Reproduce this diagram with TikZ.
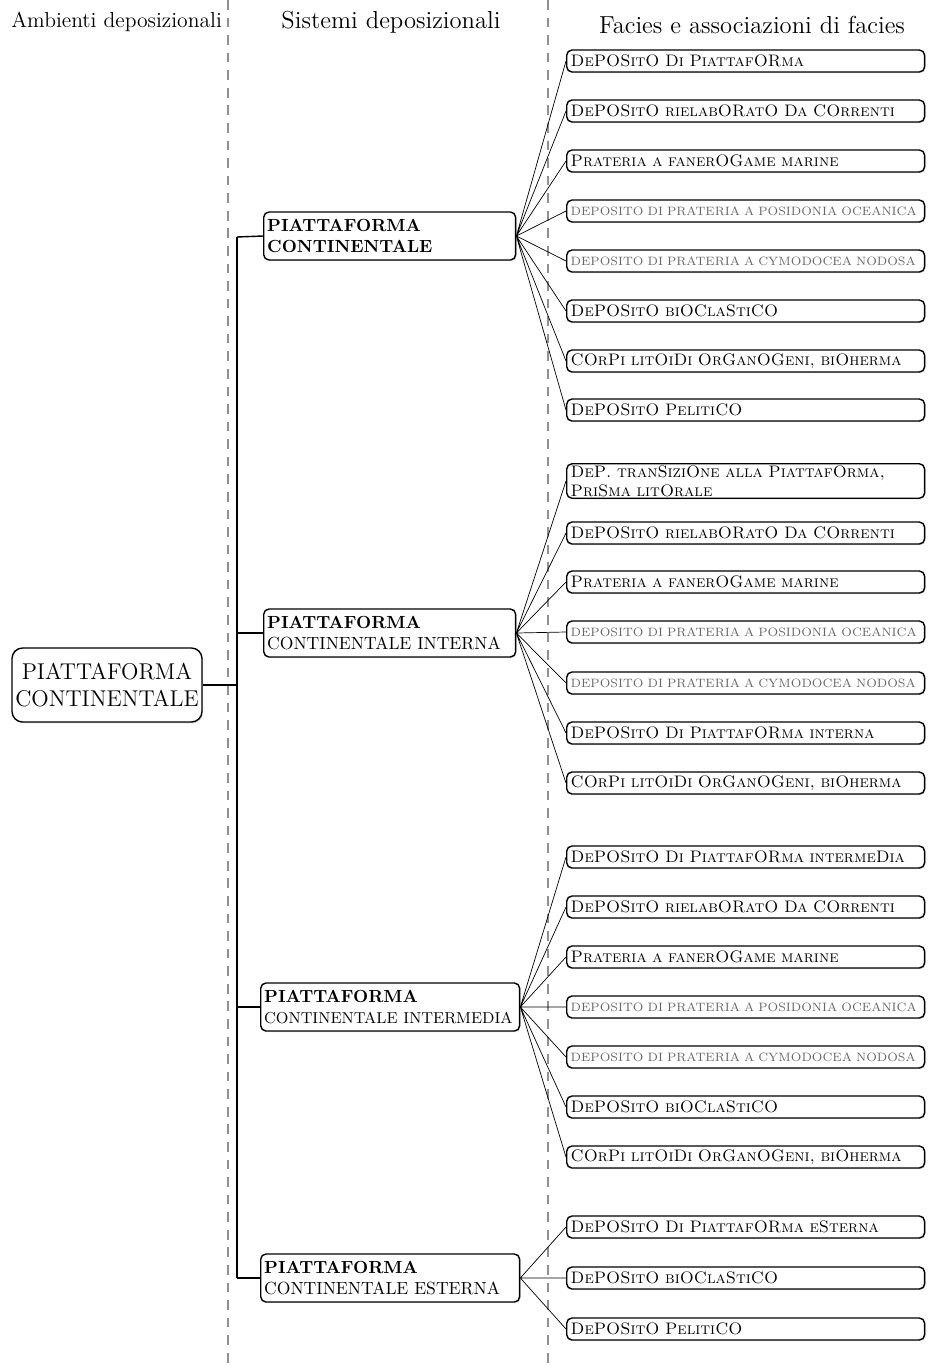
\documentclass[tikz,border=0pt]{standalone}
\usetikzlibrary{shadows,positioning}
\usepackage[dvipsnames]{xcolor}

\tikzset{
    ambiente/.style={draw, thick, rounded corners=6pt, align=center, font=\fontsize{13}{15}\selectfont,
        minimum width=3.8cm, minimum height=1.48cm, inner sep=0.06cm,
        drop shadow={shadow xshift=0.6pt, shadow yshift=-0.8pt, fill=Gray!60}, fill=white},
    sistema/.style={draw, thick, rounded corners=3pt, align=left, anchor=west,
        text width=4.9cm, inner xsep=0.07cm, minimum height=0.96cm,
        drop shadow={shadow xshift=0.5pt, shadow yshift=-0.7pt, fill=Gray!60}, fill=white},
    facies/.style={draw, thick, rounded corners=3pt, align=left, anchor=west,
        text width=7.0cm, inner xsep=0.08cm, inner ysep=0.03cm, minimum height=0.44cm,
        font=\fontsize{9.5}{11}\selectfont\scshape,
        drop shadow={shadow xshift=0.5pt, shadow yshift=-0.7pt, fill=Gray!60}, fill=white},
    faciesgrey/.style={facies, font=\fontsize{6.9}{8}\selectfont\upshape, text=black!60},
    titolo/.style={font=\fontsize{14}{16}\selectfont},
    divisore/.style={Gray, thick, dash pattern=on 5.5pt off 4.5pt}
}

\begin{document}
\begin{tikzpicture}[x=0.02cm, y=-0.02cm]
\useasboundingbox (0,0) rectangle (932,1369);

% ============================
\draw[divisore] (228,0) -- (228,1369);
\draw[divisore] (548,0) -- (548,1369);

\node[titolo, anchor=east, font=\fontsize{12.3}{15}\selectfont, inner xsep=1pt] (hAmb) at (224,22) {Ambienti deposizionali};
\node[titolo] (hSis) at (391,22) {Sistemi deposizionali};
\node[titolo] (hFac) at (752,25) {Facies e associazioni di facies};

% ============================
\node[ambiente] (root) at (107,685) {PIATTAFORMA\\CONTINENTALE};

\coordinate (t1) at (237,237);
\coordinate (t2) at (237,633);
\coordinate (t3) at (237,1007);
\coordinate (t4) at (237,1278);

\node[sistema] (s1) at (263,236) {\textbf{PIATTAFORMA}\\\textbf{CONTINENTALE}};
\node[sistema] (s2) at (263,633) {\textbf{PIATTAFORMA}\\CONTINENTALE INTERNA};
\node[sistema, text width=5.04cm] (s3) at (260,1007) {\textbf{PIATTAFORMA}\\{\fontsize{9}{11}\selectfont CONTINENTALE INTERMEDIA}};
\node[sistema, text width=5.04cm] (s4) at (260,1278) {\textbf{PIATTAFORMA}\\CONTINENTALE ESTERNA};

\draw[thick] (root.east) -- (root.east -| t1);
\draw[thick] (t1) -- (t4);
\draw[thick] (t1) -- (s1.west);
\draw[thick] (t2) -- (s2.west);
\draw[thick] (t3) -- (s3.west);
\draw[thick] (t4) -- (s4.west);

% ============================ piattaforma continentale
\node[facies] (f11) at (566,61) {DePOSitO Di PiattafORma};
\node[facies] (f12) at (566,111) {DePOSitO rielabORatO Da COrrenti};
\node[facies] (f13) at (566,161) {Prateria a fanerOGame marine};
\node[faciesgrey] (f14) at (566,211) {DEPOSITO DI PRATERIA A POSIDONIA OCEANICA};
\node[faciesgrey] (f15) at (566,261) {DEPOSITO DI PRATERIA A CYMODOCEA NODOSA};
\node[facies] (f16) at (566,311) {DePOSitO biOClaStiCO};
\node[facies] (f17) at (566,361) {COrPi litOiDi OrGanOGeni, biOherma};
\node[facies] (f18) at (566,410) {DePOSitO PelitiCO};

% ============================ interna
\node[facies] (f21) at (566,481) {DeP. tranSiziOne alla PiattafOrma,\\PriSma litOrale};
\node[facies] (f22) at (566,533) {DePOSitO rielabORatO Da COrrenti};
\node[facies] (f23) at (566,582) {Prateria a fanerOGame marine};
\node[faciesgrey] (f24) at (566,632) {DEPOSITO DI PRATERIA A POSIDONIA OCEANICA};
\node[faciesgrey] (f25) at (566,683) {DEPOSITO DI PRATERIA A CYMODOCEA NODOSA};
\node[facies] (f26) at (566,733) {DePOSitO Di PiattafORma interna};
\node[facies] (f27) at (566,783) {COrPi litOiDi OrGanOGeni, biOherma};

% ============================ intermedia
\node[facies] (f31) at (566,857) {DePOSitO Di PiattafORma intermeDia};
\node[facies] (f32) at (566,907) {DePOSitO rielabORatO Da COrrenti};
\node[facies] (f33) at (566,957) {Prateria a fanerOGame marine};
\node[faciesgrey] (f34) at (566,1007) {DEPOSITO DI PRATERIA A POSIDONIA OCEANICA};
\node[faciesgrey] (f35) at (566,1057) {DEPOSITO DI PRATERIA A CYMODOCEA NODOSA};
\node[facies] (f36) at (566,1107) {DePOSitO biOClaStiCO};
\node[facies] (f37) at (566,1157) {COrPi litOiDi OrGanOGeni, biOherma};

% ============================ esterna
\node[facies] (f41) at (566,1227) {DePOSitO Di PiattafORma eSterna};
\node[facies] (f42) at (566,1278) {DePOSitO biOClaStiCO};
\node[facies] (f43) at (566,1329) {DePOSitO PelitiCO};

% ============================
\draw (s1.east) -- (f11.west) (s1.east) -- (f12.west) (s1.east) -- (f13.west)
      (s1.east) -- (f14.west) (s1.east) -- (f15.west) (s1.east) -- (f16.west)
      (s1.east) -- (f17.west) (s1.east) -- (f18.west);
\draw (s2.east) -- (f21.west) (s2.east) -- (f22.west) (s2.east) -- (f23.west)
      (s2.east) -- (f24.west) (s2.east) -- (f25.west) (s2.east) -- (f26.west)
      (s2.east) -- (f27.west);
\draw (s3.east) -- (f31.west) (s3.east) -- (f32.west) (s3.east) -- (f33.west)
      (s3.east) -- (f34.west) (s3.east) -- (f35.west) (s3.east) -- (f36.west)
      (s3.east) -- (f37.west);
\draw (s4.east) -- (f41.west) (s4.east) -- (f42.west) (s4.east) -- (f43.west);

\end{tikzpicture}
\end{document}
